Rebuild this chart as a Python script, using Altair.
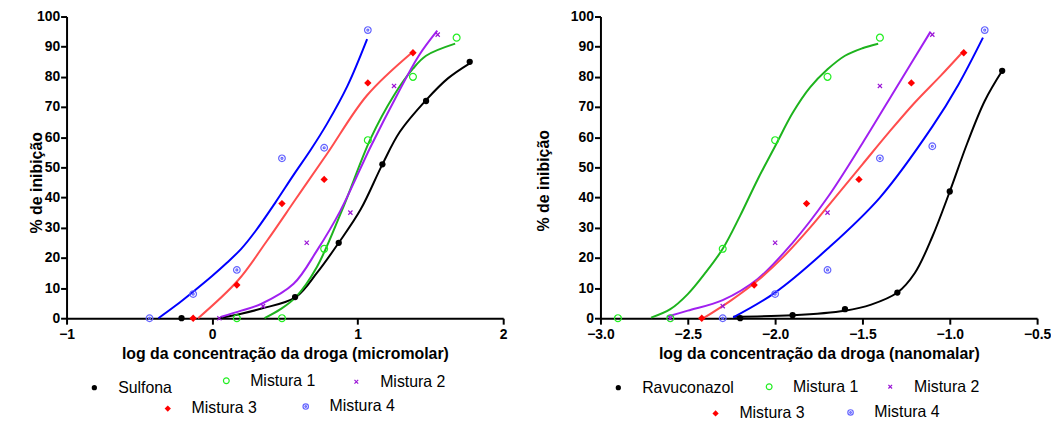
import altair as alt
import pandas as pd

FONT = "Liberation Sans"

# ---------------- Left panel (micromolar) ----------------
L_SULF_X = [-0.21, 0.57, 0.87, 1.17, 1.47, 1.77]
L_SULF_Y = [0, 7, 25, 51, 72, 85]
L_M1_X = [0.17, 0.48, 0.77, 1.07, 1.38, 1.68]
L_M1_Y = [0, 0, 23, 59, 80, 93]
L_M2_X = [0.05, 0.35, 0.65, 0.95, 1.25, 1.55]
L_M2_Y = [0, 4, 25, 35, 77, 94]
L_M3_X = [-0.13, 0.17, 0.48, 0.77, 1.07, 1.38]
L_M3_Y = [0, 11, 38, 46, 78, 88]
L_M4_X = [-0.43, -0.13, 0.17, 0.48, 0.77, 1.07]
L_M4_Y = [0, 8, 16, 53, 56.5, 95.5]

# fitted curves
L_SULF_CX = [0.04, 0.2, 0.34, 0.575, 0.72, 0.87, 1.02, 1.17, 1.29, 1.47, 1.62, 1.77]
L_SULF_CY = [0, 1.5, 3.2, 7, 15, 25, 36, 51, 61.8, 72.3, 79.5, 84.5]
L_M1_CX = [0.36, 0.47, 0.575, 0.72, 0.89, 1.09, 1.25, 1.38, 1.47, 1.67]
L_M1_CY = [0, 3, 7, 17, 35.5, 59.6, 73.9, 82.7, 87, 91]
L_M2_CX = [0.064, 0.2, 0.34, 0.56, 0.72, 0.88, 1.09, 1.27, 1.42, 1.547]
L_M2_CY = [0.5, 2.5, 4.8, 11.4, 22.4, 35.5, 56.9, 73.9, 87, 95.3]
L_M3_CX = [-0.096, 0.177, 0.375, 0.575, 0.79, 1.065, 1.372]
L_M3_CY = [0, 12.5, 25.5, 39.5, 54.5, 73.9, 88]
L_M4_CX = [-0.369, -0.25, -0.13, 0.0, 0.1, 0.2, 0.3, 0.43, 0.56, 0.68, 0.79, 0.93, 1.065]
L_M4_CY = [0, 4.2, 8.8, 14, 18.3, 23, 29, 38, 47.5, 56, 64.5, 77, 92.5]

# ---------------- Right panel (nanomolar) ----------------
R_RAVU_X = [-2.2, -1.9, -1.6, -1.3, -1.0, -0.7]
R_RAVU_Y = [0, 1, 3, 8.5, 42, 82]
R_M1_X = [-2.9, -2.6, -2.3, -2.0, -1.7, -1.4]
R_M1_Y = [0, 0, 23, 59, 80, 93]
R_M2_X = [-2.6, -2.3, -2.0, -1.7, -1.4, -1.1]
R_M2_Y = [0, 4, 25, 35, 77, 94]
R_M3_X = [-2.42, -2.12, -1.82, -1.52, -1.22, -0.92]
R_M3_Y = [0, 11, 38, 46, 78, 88]
R_M4_X = [-2.3, -2.0, -1.7, -1.4, -1.1, -0.8]
R_M4_Y = [0, 8, 16, 53, 57, 95.5]

R_RAVU_CX = [-2.24, -1.9, -1.6, -1.45, -1.3, -1.2, -1.1, -1.0, -0.9, -0.8, -0.7]
R_RAVU_CY = [0.5, 1, 2.5, 4.5, 8.5, 15, 27, 42, 58, 72, 82]
R_M1_CX = [-2.71, -2.6, -2.5, -2.4, -2.3, -2.2, -2.1, -2.0, -1.9, -1.8, -1.7, -1.6, -1.5, -1.41]
R_M1_CY = [0.2, 3, 8, 15, 23, 34, 46, 57, 68, 76.5, 82.5, 87, 89.5, 91]
R_M2_CX = [-2.62, -2.5, -2.3, -2.1, -1.9, -1.7, -1.5, -1.3, -1.11]
R_M2_CY = [0.5, 2.5, 6, 13, 25, 40, 58, 77, 95]
R_M3_CX = [-2.41, -2.25, -2.1, -1.95, -1.8, -1.65, -1.5, -1.35, -1.2, -1.05, -0.93]
R_M3_CY = [0, 6, 12.5, 20.5, 30, 40.5, 51, 61.5, 71.5, 80.5, 88]
R_M4_CX = [-2.24, -2.0, -1.7, -1.4, -1.1, -0.95, -0.81]
R_M4_CY = [0.3, 8.5, 23, 40, 63.5, 77.5, 93]

Y_TICKS = [0, 10, 20, 30, 40, 50, 60, 70, 80, 90, 100]
L_X_TICKS = [-1, 0, 1, 2]
R_X_TICKS = [-3.0, -2.5, -2.0, -1.5, -1.0, -0.5]

CIRCLE_DOT = ("M-1,0A1,1,0,1,1,1,0A1,1,0,1,1,-1,0Z "
              "M-0.3,0A0.3,0.3,0,1,1,0.3,0A0.3,0.3,0,1,1,-0.3,0Z")
X_SHAPE = "M-1,-1L1,1M-1,1L1,-1"

# style per series slot: point colour, line colour, shape, filled, point size, legend symbol size
STYLES = [
    dict(pc="#000000", lc="#000000", shape="circle", filled=True, size=40, lsize=28),
    dict(pc="#22ee22", lc="#1db31d", shape="circle", filled=False, size=48, lsize=34),
    dict(pc="#9a14d6", lc="#a020f0", shape=X_SHAPE, filled=False, size=18, lsize=14),
    dict(pc="#ff0000", lc="#ff4d4d", shape="diamond", filled=True, size=55, lsize=40),
    dict(pc="#6464ff", lc="#0000ff", shape=CIRCLE_DOT, filled=False, size=45, lsize=30),
]

AXIS_STYLE = dict(
    grid=False, domainColor="black", domainWidth=2, tickColor="black", tickWidth=2, tickSize=6,
    labelFont=FONT, labelFontSize=14, labelFontWeight="bold", labelColor="black",
    titleFont=FONT, titleFontSize=16, titleFontWeight="bold", titleColor="black",
    labelOverlap=False, labelFlush=False,
)


def make_panel(names, pts, curves, xdom, xticks, xfmt, xtitle, ytitle_x, ytitle_y, legend_pos):
    xsc = alt.Scale(domain=xdom, nice=False, zero=False)
    ysc = alt.Scale(domain=[0, 100], nice=False)
    xax = alt.Axis(values=xticks, format=xfmt, title=xtitle, labelPadding=3, titlePadding=5,
                   **AXIS_STYLE)
    yax = alt.Axis(values=Y_TICKS, title="% de inibição", labelPadding=1,
                   titleX=ytitle_x, titleY=ytitle_y, titleBaseline="middle", titleAngle=-90,
                   **AXIS_STYLE)
    layers = []
    for i, name in enumerate(names):
        st = STYLES[i]
        cx, cy = curves[i]
        cdf = pd.DataFrame({"x": cx, "y": cy})
        layers.append(
            alt.Chart(cdf).mark_line(interpolate="catmull-rom", strokeWidth=2, color=st["lc"])
            .encode(x=alt.X("x:Q", scale=xsc, axis=xax), y=alt.Y("y:Q", scale=ysc, axis=yax))
        )
    for i, name in enumerate(names):
        st = STYLES[i]
        px, py = pts[i]
        pdf = pd.DataFrame({"x": px, "y": py, "series": [name] * len(px)})
        lx, ly = legend_pos[i]
        leg = alt.Legend(orient="none", legendX=lx, legendY=ly, title=None, padding=0,
                         labelFont=FONT, labelFontSize=16, labelColor="black",
                         labelFontWeight="normal", labelOffset=16,
                         symbolType=st["shape"], symbolSize=st["lsize"],
                         symbolStrokeWidth=1.2)
        layers.append(
            alt.Chart(pdf).mark_point(shape=st["shape"], filled=st["filled"], size=st["size"],
                                      opacity=1, strokeWidth=1.2)
            .encode(x=alt.X("x:Q", scale=xsc, axis=xax), y=alt.Y("y:Q", scale=ysc, axis=yax),
                    color=alt.Color("series:N", scale=alt.Scale(range=[st["pc"]]), legend=leg))
        )
    return alt.layer(*layers).resolve_scale(color="independent").resolve_legend(color="independent").properties(
        width=440, height=304)


left = make_panel(
    ["Sulfona", "Mistura 1", "Mistura 2", "Mistura 3", "Mistura 4"],
    [(L_SULF_X, L_SULF_Y), (L_M1_X, L_M1_Y), (L_M2_X, L_M2_Y), (L_M3_X, L_M3_Y), (L_M4_X, L_M4_Y)],
    [(L_SULF_CX, L_SULF_CY), (L_M1_CX, L_M1_CY), (L_M2_CX, L_M2_CY), (L_M3_CX, L_M3_CY), (L_M4_CX, L_M4_CY)],
    [-1, 2], L_X_TICKS, "d", "log da concentração da droga (micromolar)", -30, 167,
    [(20, 366), (153, 359), (284, 360), (94, 387), (233, 385)],
)

right = make_panel(
    ["Ravuconazol", "Mistura 1", "Mistura 2", "Mistura 3", "Mistura 4"],
    [(R_RAVU_X, R_RAVU_Y), (R_M1_X, R_M1_Y), (R_M2_X, R_M2_Y), (R_M3_X, R_M3_Y), (R_M4_X, R_M4_Y)],
    [(R_RAVU_CX, R_RAVU_CY), (R_M1_CX, R_M1_CY), (R_M2_CX, R_M2_CY), (R_M3_CX, R_M3_CY), (R_M4_CX, R_M4_CY)],
    [-3.0, -0.5], R_X_TICKS, ".1f", "log da concentração da droga (nanomalar)", -57, 165,
    [(10, 366), (162, 365), (284, 365), (108, 392), (244, 391)],
)

chart = (
    alt.hconcat(left, right, spacing=98, bounds="flush")
    .properties(padding={"left": 21, "top": 0, "right": 0, "bottom": 0}, background="white")
    .configure_view(strokeWidth=0)
)

chart.save("out.html", embed_options={"renderer": "svg", "actions": False})
